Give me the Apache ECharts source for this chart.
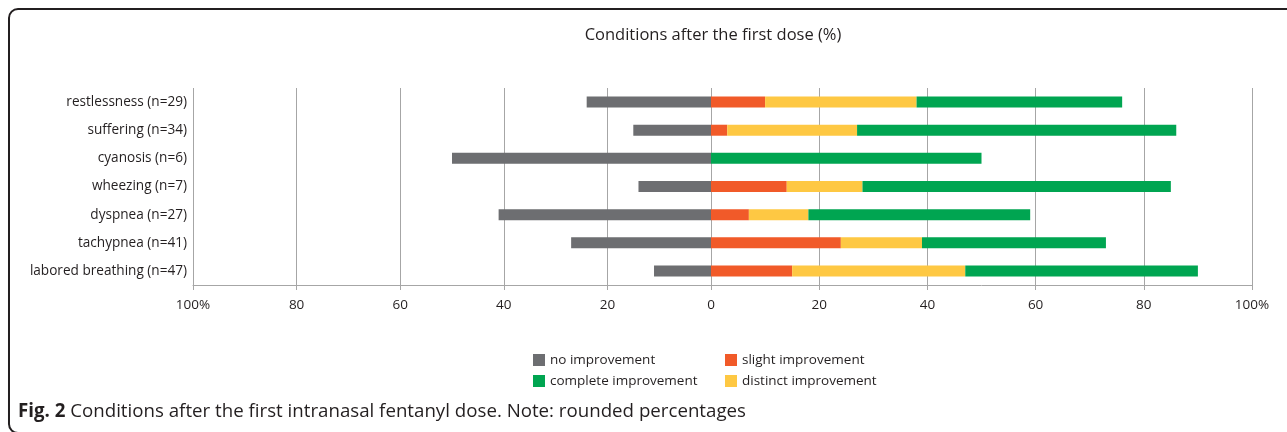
<!DOCTYPE html>
<html>
<head>
<meta charset="utf-8">
<script src="https://cdn.jsdelivr.net/npm/echarts@6/dist/echarts.min.js"></script>
<style>
  html, body { margin: 0; padding: 0; background: #fff; }
  #chart { width: 1287px; height: 432px; }
</style>
</head>
<body>
<div id="chart"></div>
<script>
const categories = [
  'restlessness (n=29)',
  'suffering (n=34)',
  'cyanosis (n=6)',
  'wheezing (n=7)',
  'dyspnea (n=27)',
  'tachypnea (n=41)',
  'labored breathing (n=47)'
]
const noImprovement = [24, 15, 50, 14, 41, 27, 11]
const slightImprovement = [10, 3, 0, 14, 7, 24, 15]
const distinctImprovement = [28, 24, 0, 14, 11, 15, 32]
const completeImprovement = [38, 59, 50, 57, 41, 34, 43]
const xTicks = [0, 20, 40, 60, 80, 100]

const textColor = '#231f20'
const gridColor = '#a6a6a6'
const font = 'Open Sans'

const chart = echarts.init(document.getElementById('chart'))

const tickLabel = (v) => (v === 100 ? '100%' : String(v))

const xAxisBase = {
  type: 'value',
  min: xTicks[0],
  max: xTicks[xTicks.length - 1],
  interval: 20,
  axisLine: { show: true, lineStyle: { color: gridColor, width: 1 } },
  axisTick: { show: true, length: 5, lineStyle: { color: gridColor } },
  splitLine: { show: true, lineStyle: { color: gridColor, width: 1 } },
  axisLabel: {
    color: textColor,
    fontFamily: font,
    fontSize: 13.5,
    margin: 13,
    formatter: tickLabel
  }
}

const yAxisBase = {
  type: 'category',
  data: categories,
  inverse: true,
  axisLine: { show: false },
  axisTick: { show: false },
  splitLine: { show: false }
}

const barWidth = 11

chart.setOption({
  animation: false,
  backgroundColor: '#fff',
  title: {
    text: 'Conditions after the first dose (%)',
    left: 708,
    textAlign: 'center',
    top: 22,
    textStyle: { color: textColor, fontFamily: font, fontSize: 16.5, fontWeight: 'normal' }
  },
  legend: [
    {
      data: ['no improvement', 'complete improvement'],
      orient: 'vertical',
      left: 528,
      top: 348,
      itemWidth: 12,
      itemHeight: 12,
      itemGap: 7,
      icon: 'rect',
      textStyle: { color: textColor, fontFamily: font, fontSize: 13.5 }
    },
    {
      data: ['slight improvement', 'distinct improvement'],
      orient: 'vertical',
      left: 720,
      top: 348,
      itemWidth: 12,
      itemHeight: 12,
      itemGap: 7,
      icon: 'rect',
      textStyle: { color: textColor, fontFamily: font, fontSize: 13.5 }
    }
  ],
  grid: [
    { left: 193, width: 518, top: 88, height: 197 },
    { left: 711, width: 541, top: 88, height: 197 }
  ],
  xAxis: [
    Object.assign({}, xAxisBase, {
      gridIndex: 0,
      inverse: true,
      axisLabel: Object.assign({}, xAxisBase.axisLabel, { showMinLabel: false })
    }),
    Object.assign({}, xAxisBase, { gridIndex: 1 })
  ],
  yAxis: [
    Object.assign({}, yAxisBase, {
      gridIndex: 0,
      axisLabel: { color: textColor, fontFamily: font, fontSize: 13.6, margin: 6 }
    }),
    Object.assign({}, yAxisBase, { gridIndex: 1, axisLabel: { show: false } })
  ],
  series: [
    {
      name: 'no improvement',
      type: 'bar',
      xAxisIndex: 0,
      yAxisIndex: 0,
      barWidth: barWidth,
      data: noImprovement,
      itemStyle: { color: '#6d6e71' }
    },
    {
      name: 'slight improvement',
      type: 'bar',
      xAxisIndex: 1,
      yAxisIndex: 1,
      stack: 'pos',
      barWidth: barWidth,
      data: slightImprovement,
      itemStyle: { color: '#f15a29' }
    },
    {
      name: 'distinct improvement',
      type: 'bar',
      xAxisIndex: 1,
      yAxisIndex: 1,
      stack: 'pos',
      barWidth: barWidth,
      data: distinctImprovement,
      itemStyle: { color: '#fec843' }
    },
    {
      name: 'complete improvement',
      type: 'bar',
      xAxisIndex: 1,
      yAxisIndex: 1,
      stack: 'pos',
      barWidth: barWidth,
      data: completeImprovement,
      itemStyle: { color: '#00a551' }
    }
  ],
  graphic: [
    {
      type: 'rect',
      shape: { x: 9, y: 9, width: 1320, height: 424, r: 9 },
      style: { fill: null, stroke: '#231f20', lineWidth: 2 },
      silent: true
    },
    {
      type: 'text',
      left: 18,
      top: 402,
      style: {
        text: '{b|Fig. 2} Conditions after the first intranasal fentanyl dose. Note: rounded percentages',
        fill: textColor,
        font: '18.7px "Open Sans"',
        rich: {
          b: { fontWeight: 'bold', fontSize: 18.7, fontFamily: font, fill: textColor }
        }
      }
    }
  ]
})
</script>
</body>
</html>
